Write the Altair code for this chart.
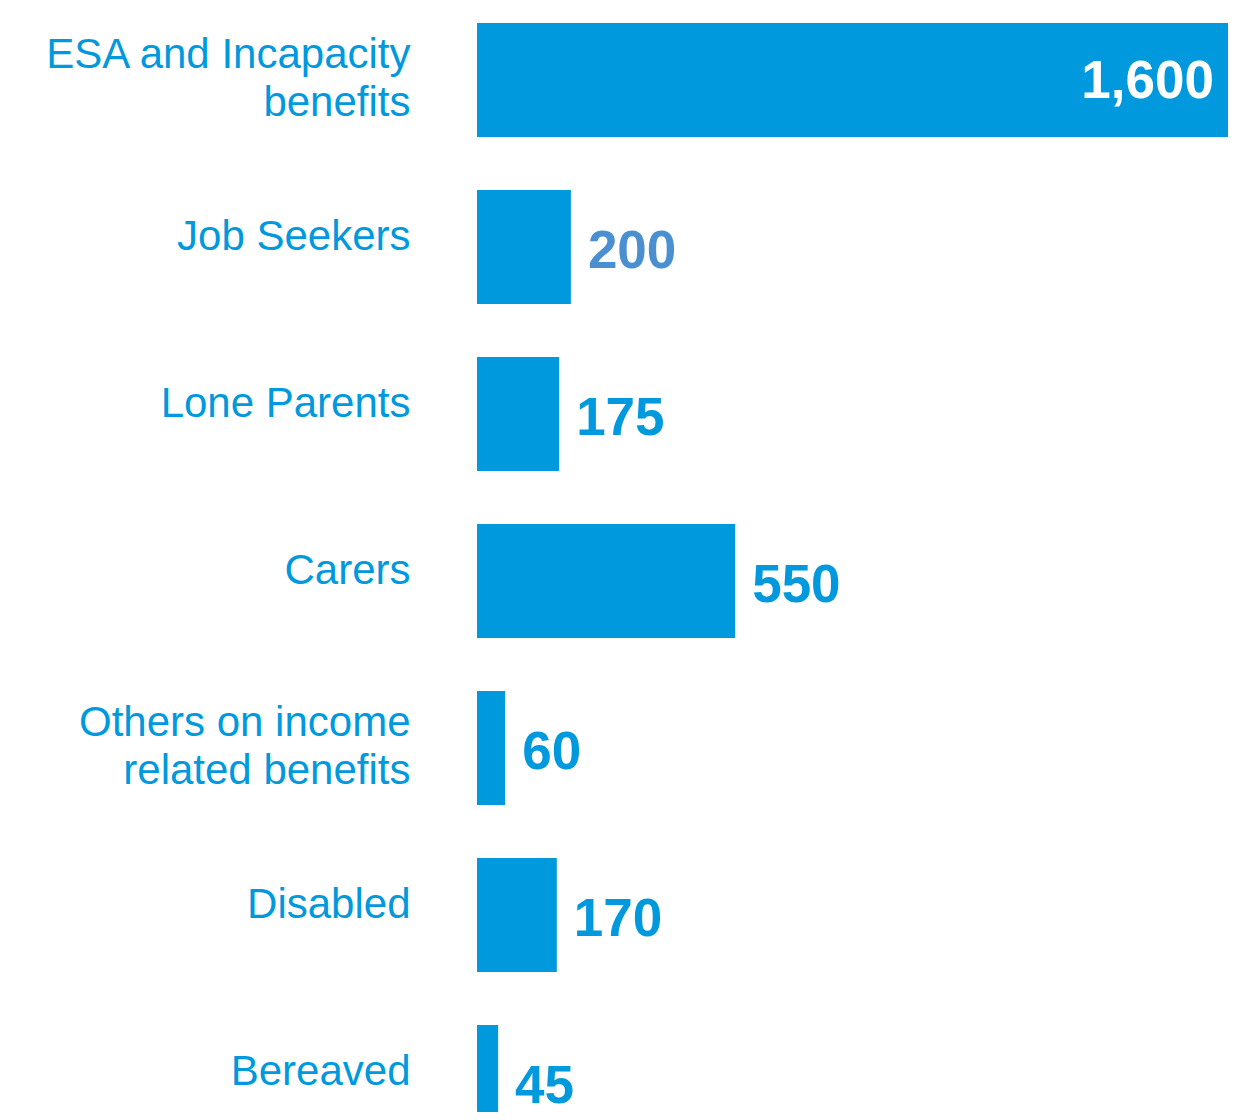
import altair as alt
import pandas as pd

categories = [
    "ESA and Incapacity|benefits",
    "Job Seekers",
    "Lone Parents",
    "Carers",
    "Others on income|related benefits",
    "Disabled",
    "Bereaved",
]
values = [1600, 200, 175, 550, 60, 170, 45]

df = pd.DataFrame({"category": categories, "value": values})

BLUE = "#0099DD"
FONT = "Liberation Sans"

y_enc = alt.Y(
    "category:N",
    sort=categories,
    scale=alt.Scale(range=[0, 1146], paddingInner=0.317, paddingOuter=0.09),
    axis=alt.Axis(
        title=None,
        ticks=False,
        domain=False,
        labelPadding=67,
        labelFont=FONT,
        labelFontSize=42,
        labelColor=BLUE,
        labelAlign="right",
        labelBaseline="middle",
        labelLimit=600,
        labelOffset={
            "condition": {"test": "indexof(datum.value, '|') >= 0", "value": -25},
            "value": -10,
        },
        labelLineHeight=48,
        labelExpr="split(datum.label, '|')",
        minExtent=469,
        maxExtent=469,
    ),
)
x_enc = alt.X(
    "value:Q",
    scale=alt.Scale(domain=[0, 1600], nice=False, zero=True),
    axis=None,
)

bars = alt.Chart(df).mark_bar(color=BLUE, clip=True).encode(y=y_enc, x=x_enc)

outside = (
    alt.Chart(df)
    .transform_filter("datum.value < 1000")
    .mark_text(
        align="left", baseline="middle", dx=17, dy=5,
        font=FONT, fontSize=53, fontWeight="bold", clip=True,
    )
    .encode(
        y=alt.Y("category:N", sort=categories),
        x="value:Q",
        text=alt.Text("value:Q", format=","),
        color=alt.condition(
            "datum.category == 'Job Seekers'",
            alt.value("#4A90D0"),
            alt.value(BLUE),
        ),
    )
)

inside = (
    alt.Chart(df)
    .transform_filter("datum.value >= 1000")
    .mark_text(
        align="right", baseline="middle", dx=-14, dy=2,
        font=FONT, fontSize=53, fontWeight="bold", color="white",
    )
    .encode(
        y=alt.Y("category:N", sort=categories),
        x="value:Q",
        text=alt.Text("value:Q", format=","),
    )
)

chart = (
    alt.layer(bars, outside, inside)
    .properties(width=751, height=1104, padding=0)
    .configure_view(stroke=None)
)

chart.save("out.html", embed_options={"renderer": "svg", "actions": False})
